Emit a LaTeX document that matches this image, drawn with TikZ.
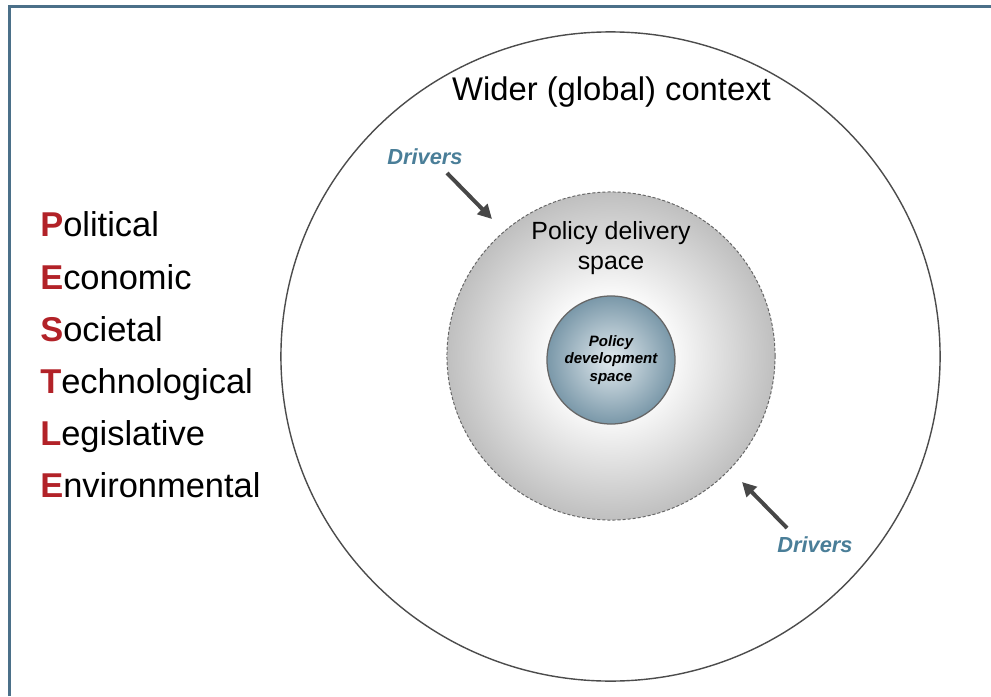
\documentclass[tikz,border=0pt]{standalone}
\usepackage{fontspec}
\setmainfont{Liberation Sans}
\usetikzlibrary{positioning,arrows.meta,shapes.geometric,calc}
\definecolor{framecol}{RGB}{75,112,137}
\definecolor{pestred}{RGB}{178,34,40}
\definecolor{drvblue}{RGB}{74,126,152}
\definecolor{devedge}{RGB}{122,152,169}
\definecolor{devmid}{RGB}{226,234,238}
\pgfdeclareradialshading{deliveryshade}{\pgfpoint{0bp}{0bp}}{color(0bp)=(white); color(8bp)=(white); color(25bp)=(black!25); color(50bp)=(black!25)}
\pgfdeclareradialshading{devshade}{\pgfpoint{0bp}{0bp}}{color(0bp)=(devmid); color(25bp)=(devedge); color(50bp)=(devedge)}
\newcommand{\redcap}[1]{\textcolor{pestred}{\textbf{#1}}}
\tikzset{
  pestle/.style   = {anchor=base west, inner sep=0pt, font=\fontsize{24.5}{29}\selectfont},
  ctxlabel/.style = {anchor=base, inner sep=0pt, font=\fontsize{23.3}{28}\selectfont},
  drvlabel/.style = {inner sep=0pt, text=drvblue, font=\fontsize{15.5}{18}\selectfont\bfseries\itshape},
  outer/.style    = {ellipse, draw=black!70, line width=1pt, inner sep=0pt,
                     minimum width=16.475cm, minimum height=16.225cm},
  delivery/.style = {circle, draw=black!60, line width=0.7pt, dash pattern=on 2.2pt off 1.4pt,
                     shading=deliveryshade, inner sep=0pt, minimum size=8.2cm},
  develop/.style  = {circle, draw=black!60, line width=0.9pt, shading=devshade, inner sep=0pt,
                     minimum size=3.2cm, align=center,
                     font=\fontsize{10.7}{12.4}\selectfont\bfseries\itshape},
  push/.style     = {-{Triangle[length=10pt,width=10pt]}, line width=2.8pt, draw=black!72},
}
\begin{document}
\begin{tikzpicture}[x=0.025cm, y=-0.025cm]
  \useasboundingbox (0,0) rectangle (991,696);
  % frame, open to the right and bottom
  \draw[framecol, line width=0.075cm] (9.5,696) -- (9.5,6.7) -- (991,6.7);

  % nested spaces
  \node[outer] (wider) at (610.5,356.5) {};
  \node[delivery] (deliv) at (611,356) {};
  \node[develop] (dev) at (611,360) {Policy\\development\\space};
  \node[ctxlabel] (widertxt) at (611.5,101) {Wider (global) context};
  \node[align=center, inner sep=0pt, font=\fontsize{17.7}{21}\selectfont] (delivtxt) at (611,248) {Policy delivery\\space};

  % drivers
  \node[drvlabel] (drvA) at (425,157) {Drivers};
  \node[drvlabel] (drvB) at (815,545) {Drivers};
  \coordinate (drvAtail) at (447,173);
  \coordinate (drvAtip) at (492,219);
  \coordinate (drvBtail) at (787,528);
  \coordinate (drvBtip) at (742,482);
  \draw[push] (drvAtail) -- (drvAtip);
  \draw[push] (drvBtail) -- (drvBtip);

  % PESTLE list
  \node[pestle] (pol) at (40,236.7) {\redcap{P}olitical};
  \node[pestle] (eco) at (40,289) {\redcap{E}conomic};
  \node[pestle] (soc) at (40,341) {\redcap{S}ocietal};
  \node[pestle] (tec) at (40,393.3) {\redcap{T}echnological};
  \node[pestle] (leg) at (40,445.6) {\redcap{L}egislative};
  \node[pestle] (env) at (40,497.5) {\redcap{E}nvironmental};
\end{tikzpicture}
\end{document}
